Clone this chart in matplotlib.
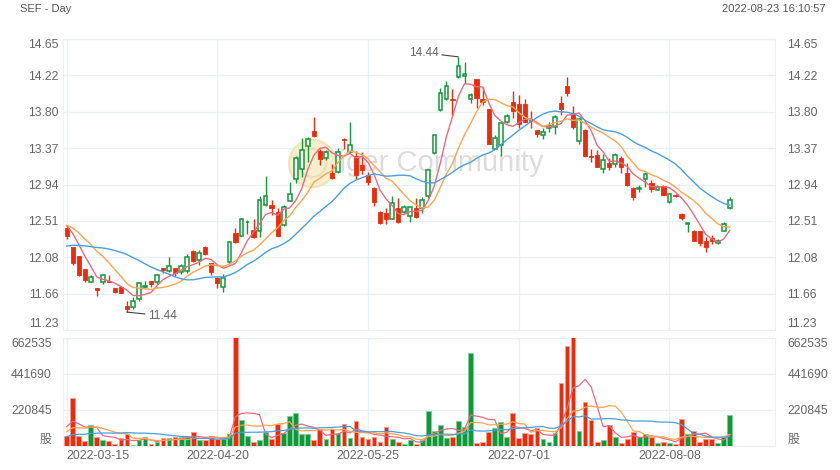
import numpy as np
import pandas as pd
import matplotlib.pyplot as plt

plt.rcParams['font.family'] = ['Liberation Sans', 'Noto Sans CJK SC', 'DejaVu Sans']

# daily candles, 2022-03-15 .. 2022-08-23
opens = [12.43, 12.21, 12.10, 11.95, 11.80, 11.72, 11.79, 11.81, 11.72, 11.73,
         11.51, 11.50, 11.59, 11.73, 11.81, 11.79, 11.96, 11.92, 11.96, 11.91,
         11.92, 12.16, 12.05, 12.21, 12.02, 11.84, 11.73, 12.03, 12.37, 12.34,
         12.495, 12.40, 12.39, 12.70, 12.70, 12.62, 12.46, 12.75, 13.01, 13.12,
         13.39, 13.57, 13.33, 13.25, 13.07, 13.09, 13.48, 13.32, 13.27, 13.17,
         13.05, 12.90, 12.62, 12.61, 12.54, 12.66, 12.62, 12.57, 12.66, 12.66,
         12.80, 13.31, 13.81, 13.95, 13.95, 14.20, 14.22, 13.95, 14.18, 13.95,
         13.83, 13.36, 13.41, 13.67, 13.91, 13.89, 13.89, 13.71, 13.58, 13.52,
         13.60, 13.61, 13.90, 14.10, 13.78, 13.45, 13.58, 13.27, 13.29, 13.12,
         13.19, 13.18, 13.25, 13.08, 12.90, 12.89, 13.00, 12.96, 12.87, 12.92,
         12.74, 12.82, 12.59, 12.48, 12.39, 12.39, 12.28, 12.31, 12.25, 12.39,
         12.66]
highs = [12.46, 12.21, 12.10, 11.95, 11.88, 11.72, 11.89, 11.88, 11.72, 11.75,
         11.57, 11.62, 11.79, 11.81, 11.81, 11.89, 11.96, 12.09, 11.96, 12.01,
         12.12, 12.17, 12.17, 12.22, 12.02, 11.85, 11.89, 12.28, 12.43, 12.55,
         12.52, 12.53, 12.81, 13.04, 12.76, 12.66, 12.70, 12.97, 13.27, 13.49,
         13.50, 13.73, 13.36, 13.35, 13.18, 13.37, 13.49, 13.67, 13.33, 13.32,
         13.09, 12.91, 12.63, 12.66, 12.81, 12.78, 12.70, 12.68, 12.78, 12.79,
         13.12, 13.52, 14.07, 14.16, 14.06, 14.44, 14.38, 14.01, 14.18, 14.09,
         13.83, 13.52, 13.66, 13.77, 14.04, 13.99, 13.95, 13.80, 13.58, 13.60,
         13.68, 13.76, 13.98, 14.20, 13.86, 13.72, 13.59, 13.36, 13.34, 13.30,
         13.25, 13.31, 13.27, 13.19, 12.91, 12.94, 13.09, 12.99, 12.93, 12.93,
         12.84, 12.83, 12.60, 12.50, 12.40, 12.39, 12.32, 12.35, 12.30, 12.50,
         12.79]
lows = [12.30, 11.99, 11.86, 11.79, 11.80, 11.63, 11.77, 11.79, 11.67, 11.66,
        11.44, 11.48, 11.57, 11.72, 11.73, 11.77, 11.90, 11.91, 11.87, 11.89,
        11.90, 12.03, 11.99, 12.11, 11.88, 11.72, 11.68, 12.00, 12.25, 12.33,
        12.36, 12.31, 12.32, 12.69, 12.58, 12.33, 12.45, 12.75, 12.96, 13.03,
        13.20, 13.50, 13.17, 13.23, 13.01, 13.08, 13.36, 13.32, 13.00, 13.06,
        12.93, 12.69, 12.47, 12.47, 12.53, 12.49, 12.60, 12.50, 12.55, 12.60,
        12.78, 13.30, 13.80, 13.93, 13.76, 14.19, 14.13, 13.90, 13.84, 13.87,
        13.42, 13.36, 13.27, 13.66, 13.72, 13.60, 13.67, 13.60, 13.50, 13.48,
        13.56, 13.53, 13.76, 13.98, 13.59, 13.42, 13.26, 13.21, 13.14, 13.08,
        13.11, 13.15, 13.08, 12.92, 12.76, 12.85, 12.91, 12.85, 12.87, 12.82,
        12.72, 12.79, 12.52, 12.38, 12.28, 12.22, 12.15, 12.24, 12.24, 12.39,
        12.65]
closes = [12.33, 12.02, 11.88, 11.82, 11.85, 11.70, 11.88, 11.79, 11.68, 11.66,
          11.48, 11.57, 11.78, 11.75, 11.77, 11.88, 11.93, 11.98, 11.90, 11.98,
          12.09, 12.04, 12.13, 12.12, 11.91, 11.78, 11.84, 12.26, 12.27, 12.54,
          12.505, 12.32, 12.76, 12.81, 12.66, 12.34, 12.68, 12.83, 13.25, 13.35,
          13.47, 13.51, 13.24, 13.32, 13.02, 13.32, 13.46, 13.41, 13.05, 13.11,
          12.97, 12.74, 12.49, 12.54, 12.72, 12.50, 12.68, 12.67, 12.56, 12.76,
          13.11, 13.52, 14.02, 14.10, 13.93, 14.33, 14.24, 13.99, 13.96, 13.91,
          13.42, 13.49, 13.66, 13.74, 13.80, 13.65, 13.68, 13.69, 13.53, 13.56,
          13.63, 13.73, 13.83, 14.02, 13.61, 13.71, 13.27, 13.26, 13.15, 13.23,
          13.15, 13.29, 13.15, 12.93, 12.79, 12.90, 13.06, 12.89, 12.91, 12.82,
          12.83, 12.80, 12.55, 12.485, 12.28, 12.25, 12.21, 12.28, 12.28, 12.48,
          12.76]
# volume in thousands of shares
volumes = [61, 292, 61, 33, 129, 57, 37, 31, 12, 47,
           72, 6, 37, 53, 12, 27, 47, 47, 57, 53,
           53, 86, 37, 37, 63, 43, 43, 72, 680, 160,
           61, 27, 37, 88, 43, 133, 78, 184, 204, 74,
           72, 37, 102, 43, 102, 78, 133, 47, 155, 53,
           43, 57, 27, 115, 43, 23, 12, 37, 10, 37,
           215, 92, 129, 47, 57, 153, 118, 572, 16, 23,
           84, 109, 149, 57, 204, 51, 78, 74, 109, 43,
           27, 78, 388, 613, 677, 94, 272, 160, 27, 37,
           129, 53, 20, 43, 84, 57, 74, 53, 20, 23,
           20, 12, 164, 74, 90, 27, 43, 43, 16, 53,
           190]

# sessions before the window, only used to seed the moving averages
pre_close = [11.85, 11.90, 11.95, 12.00, 11.92, 11.98, 12.05, 12.02, 12.10, 11.98,
             12.30, 12.45, 12.55, 12.50, 12.50, 12.48, 12.52, 12.50, 12.46]
pre_volume = [30, 25, 35, 20, 28, 22, 30, 25, 24, 21,
              50, 65, 55, 60, 60, 120, 140, 135, 134]

date_ticks = [0, 25, 50, 75, 100]
date_labels = ['2022-03-15', '2022-04-20', '2022-05-25', '2022-07-01', '2022-08-08']
price_labels = ['11.23', '11.66', '12.08', '12.51', '12.94', '13.37', '13.80', '14.22', '14.65']
vol_labels = ['股', '220845', '441690', '662535']

RED = '#ec2b0c'
GREEN = '#10993b'
MA_COLORS = {5: '#ea6a82', 10: '#ffa54f', 20: '#4a9fe0'}
GRID = '#e8f1f9'
TXT = '#666666'

n = len(closes)
x = np.arange(n)
o = np.array(opens)
h = np.array(highs)
l = np.array(lows)
c = np.array(closes)
v = np.array(volumes) * 1000.0
up = c >= o

close_all = pd.Series(pre_close + closes)
vol_all = pd.Series(pre_volume + volumes) * 1000.0
npre = len(pre_close)

fig = plt.figure(figsize=(8.4, 4.7), dpi=100)
L, R = 63, 775
ax = fig.add_axes([L / 840, 1 - 330 / 470, (R - L) / 840, (330 - 39) / 470])
axv = fig.add_axes([L / 840, 1 - 446 / 470, (R - L) / 840, (446 - 338) / 470], sharex=ax)

price_ticks = np.linspace(11.23, 14.65, len(price_labels))
vol_ticks = np.linspace(0, 662535, len(vol_labels))

for a in (ax, axv):
    a.set_xlim(-0.6, 117.5)
    for s in a.spines.values():
        s.set_color(GRID)
    a.grid(True, color=GRID, lw=1)
    a.set_axisbelow(True)
    a.tick_params(length=0, labelsize=8.7, labelcolor=TXT)

ax.set_ylim(11.23, 14.65)
axv.set_ylim(0, 662535)

# candles
ax.vlines(x, l, h, colors=np.where(up, GREEN, RED), lw=1, zorder=3)
body_lo = np.minimum(o, c)
body_h = np.maximum(np.abs(c - o), 0.008)
ax.bar(x[~up], body_h[~up], bottom=body_lo[~up], width=0.7, color=RED,
       edgecolor=RED, lw=0.6, zorder=4)
ax.bar(x[up], body_h[up], bottom=body_lo[up], width=0.62, color='white',
       edgecolor=GREEN, lw=1.1, zorder=4)

# moving averages
for w, col in MA_COLORS.items():
    ma = close_all.rolling(w).mean().iloc[npre:].values
    ax.plot(x, ma, color=col, lw=1.0, zorder=5)
    vma = vol_all.rolling(w).mean().iloc[npre:].values
    axv.plot(x, vma, color=col, lw=0.9, zorder=5)

# volume
axv.bar(x[~up], v[~up], width=0.78, color=RED, edgecolor='#f6a190', lw=0.6, zorder=3)
axv.bar(x[up], v[up], width=0.78, color=GREEN, edgecolor='#7fcf95', lw=0.6, zorder=3)

# ticks
ax.set_yticks(price_ticks)
ax.set_yticklabels(price_labels)
axv.set_yticks(vol_ticks)
axv.set_yticklabels(vol_labels)
ax.tick_params(labelbottom=False, pad=3)
axv.set_xticks(date_ticks)
axv.set_xticklabels(date_labels)
axv.tick_params(axis='x', pad=3, labelsize=8.9)
axv.get_xticklabels()[0].set_ha('left')
axv.tick_params(axis='y', pad=8)

for a, labels, ticks in ((ax, price_labels, price_ticks), (axv, vol_labels, vol_ticks)):
    tl = a.get_yticklabels()
    tl[0].set_va('bottom')
    tl[-1].set_va('top')
    ar = a.twinx()
    ar.set_ylim(a.get_ylim())
    ar.set_yticks(ticks)
    ar.set_yticklabels(labels)
    ar.tick_params(length=0, labelsize=8.7, labelcolor=TXT, pad=9)
    for s in ar.spines.values():
        s.set_visible(False)
    tr = ar.get_yticklabels()
    tr[0].set_va('bottom')
    tr[-1].set_va('top')

# extreme labels
imax = int(np.argmax(h))
imin = int(np.argmin(l))
ax.annotate(f'{h[imax]:.2f}', xy=(imax, h[imax]), xytext=(-14, 3), textcoords='offset points',
            ha='right', va='center', fontsize=8.5, color=TXT,
            arrowprops=dict(arrowstyle='-', color='#444444', lw=0.8, shrinkA=0, shrinkB=0), zorder=6)
ax.annotate(f'{l[imin]:.2f}', xy=(imin, l[imin]), xytext=(15, -2.5), textcoords='offset points',
            ha='left', va='center', fontsize=8.5, color=TXT,
            arrowprops=dict(arrowstyle='-', color='#444444', lw=0.8, shrinkA=0, shrinkB=0), zorder=6)

# watermark
ax.text(0.52, 0.575, 'Tiger Community', transform=ax.transAxes, ha='center', va='center',
        fontsize=21, color='#d4d4d4', alpha=0.8, zorder=1)
ax.scatter([0.35], [0.575], transform=ax.transAxes, s=1150, color='#f7edc6',
           edgecolor='#efe2ad', lw=1.5, alpha=0.85, zorder=1.5)
ax.scatter([0.35], [0.575], transform=ax.transAxes, s=420, facecolor='none',
           edgecolor='#e9dcb0', lw=1.5, alpha=0.8, zorder=1.6)

fig.text(20 / 840, 1 - 9 / 470, 'SEF - Day', ha='left', va='center', fontsize=8, color='#555555')
fig.text(826 / 840, 1 - 9 / 470, '2022-08-23 16:10:57', ha='right', va='center',
         fontsize=8, color='#555555')

fig.savefig('out.png', dpi=100)
